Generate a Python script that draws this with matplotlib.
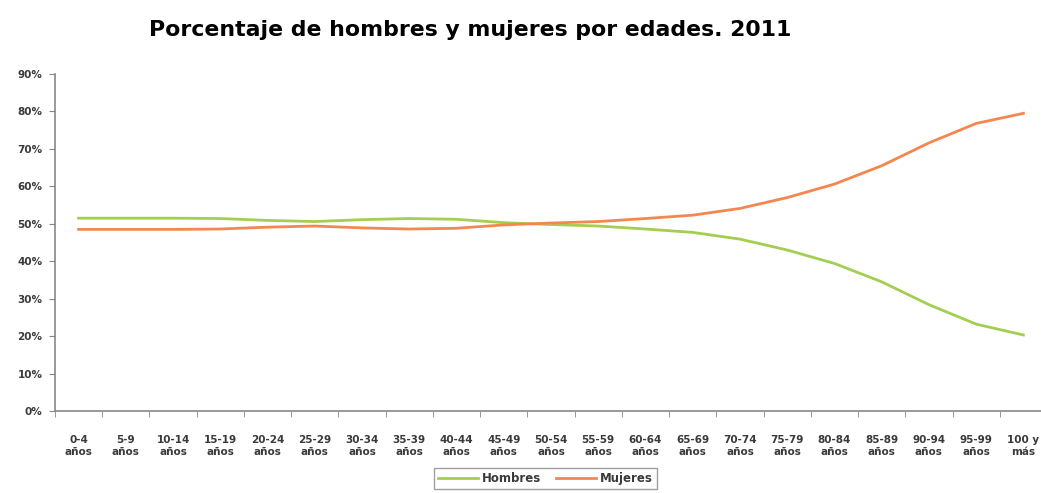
import matplotlib.pyplot as plt
from matplotlib.ticker import FuncFormatter

plt.rcParams['font.family'] = ['DejaVu Sans']

edades = ['0-4\naños', '5-9\naños', '10-14\naños', '15-19\naños', '20-24\naños',
          '25-29\naños', '30-34\naños', '35-39\naños', '40-44\naños', '45-49\naños',
          '50-54\naños', '55-59\naños', '60-64\naños', '65-69\naños', '70-74\naños',
          '75-79\naños', '80-84\naños', '85-89\naños', '90-94\naños', '95-99\naños',
          '100 y\nmás']
mujeres = [48.5, 48.5, 48.5, 48.6, 49.1, 49.4, 48.9, 48.6, 48.8, 49.7, 50.2,
           50.6, 51.4, 52.3, 54.1, 57.0, 60.6, 65.5, 71.6, 76.8, 79.5]
hombres = [51.5, 51.5, 51.5, 51.4, 50.9, 50.6, 51.1, 51.4, 51.2, 50.3, 49.8,
           49.4, 48.6, 47.7, 45.9, 43.0, 39.4, 34.5, 28.4, 23.2, 20.3]

fig = plt.figure(figsize=(10.41, 4.93), dpi=100)
ax = fig.add_axes([0.0528, 0.1663, 0.953, 0.6836])

x = list(range(len(edades)))
ax.plot(x, hombres, color='#A3CE52', lw=2, label='Hombres')
ax.plot(x, mujeres, color='#F4874F', lw=2, label='Mujeres')

ax.set_xlim(-0.5, len(edades) - 0.5)
ax.set_ylim(0, 90)
ax.set_yticks(range(0, 91, 10))
ax.yaxis.set_major_formatter(FuncFormatter(lambda v, p: '%d%%' % v))
ax.set_xticks(x)
ax.set_xticklabels(edades, fontsize=7.5, fontweight='bold', color='#3a3a3a',
                   linespacing=1.3)
ax.set_xticks([i - 0.5 for i in range(len(edades) + 1)], minor=True)
ax.tick_params(axis='x', which='major', length=0, pad=17)
ax.tick_params(axis='x', which='minor', length=4, color='#888888')
ax.tick_params(axis='y', length=4, color='#888888', labelsize=7.5,
               labelcolor='#3a3a3a', pad=5)
for lbl in ax.get_yticklabels():
    lbl.set_fontweight('bold')

for s in ['top', 'right']:
    ax.spines[s].set_visible(False)
for s in ['left', 'bottom']:
    ax.spines[s].set_color('#888888')
    ax.spines[s].set_linewidth(1.2)

fig.text(0.4515, 0.939, 'Porcentaje de hombres y mujeres por edades. 2011',
         ha='center', va='center', fontsize=15.8, fontweight='bold')

leg = fig.legend(loc='lower center', bbox_to_anchor=(0.524, -0.004), ncol=2,
                 fontsize=8.5, frameon=True, fancybox=False, handlelength=3.4,
                 columnspacing=1.3, borderpad=0.35, handletextpad=0.3)
leg.get_frame().set_edgecolor('#888888')
for t in leg.get_texts():
    t.set_fontweight('bold')
    t.set_color('#3a3a3a')

fig.savefig('out.png', dpi=100)
